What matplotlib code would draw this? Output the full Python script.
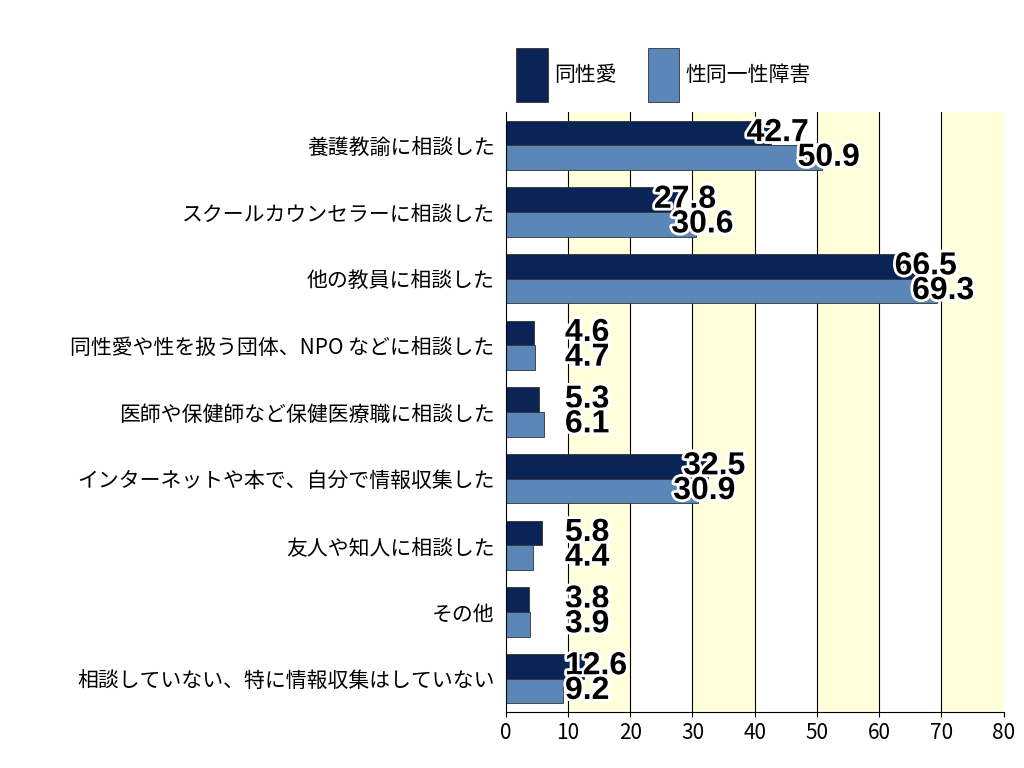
import matplotlib.pyplot as plt
import matplotlib.patheffects as pe
import numpy as np

plt.rcParams['font.family'] = 'Noto Sans CJK JP'

categories = ["養護教諭に相談した", "スクールカウンセラーに相談した", "他の教員に相談した",
              "同性愛や性を扱う団体、NPO などに相談した", "医師や保健師など保健医療職に相談した",
              "インターネットや本で、自分で情報収集した", "友人や知人に相談した", "その他",
              "相談していない、特に情報収集はしていない"]
homo = [42.7, 27.8, 66.5, 4.6, 5.3, 32.5, 5.8, 3.8, 12.6]
gid = [50.9, 30.6, 69.3, 4.7, 6.1, 30.9, 4.4, 3.9, 9.2]
series_names = ["同性愛", "性同一性障害"]
colors = ["#0a2456", "#5b87b8"]

fig = plt.figure(figsize=(10.24, 7.68), dpi=100)
ax = fig.add_axes([0.494, 0.073, 0.486, 0.781])

for x0 in (10, 30, 50, 70):
    ax.axvspan(x0, x0 + 10, color="#ffffdc", zorder=0)
for x0 in range(10, 80, 10):
    ax.axvline(x0, color="black", lw=0.8, zorder=1)

y = np.arange(len(categories))
h = 0.37
ax.barh(y - h / 2, homo, h, color=colors[0], edgecolor="#333333", lw=0.6, label=series_names[0], zorder=2)
ax.barh(y + h / 2, gid, h, color=colors[1], edgecolor="#333333", lw=0.6, label=series_names[1], zorder=2)

fx = [pe.withStroke(linewidth=4, foreground="white")]
for i in range(len(categories)):
    for v, dy in ((homo[i], -h / 2), (gid[i], h / 2)):
        ax.text(max(v - 4, 9.5), y[i] + dy, f"{v:.1f}", ha="left", va="center",
                fontsize=23, fontweight="bold",
                fontfamily=["Liberation Sans Narrow", "Liberation Sans"],
                path_effects=fx, zorder=3)

ax.set_xlim(0, 80)
ax.set_xticks(range(0, 81, 10))
ax.set_ylim(len(categories) - 0.5, -0.5)
ax.set_yticks(y)
ax.set_yticklabels(categories, fontsize=15)
ax.tick_params(axis="x", labelsize=15)
ax.tick_params(axis="y", length=0, pad=8)
for s in ("top", "right"):
    ax.spines[s].set_visible(False)

ax.legend(loc="lower left", bbox_to_anchor=(0, 1.0), ncol=2, frameon=False,
          handlelength=1.5, handleheight=3.6, fontsize=15, borderaxespad=0.1,
          columnspacing=1.5, handletextpad=0.3)

fig.savefig("out.png", dpi=100)
